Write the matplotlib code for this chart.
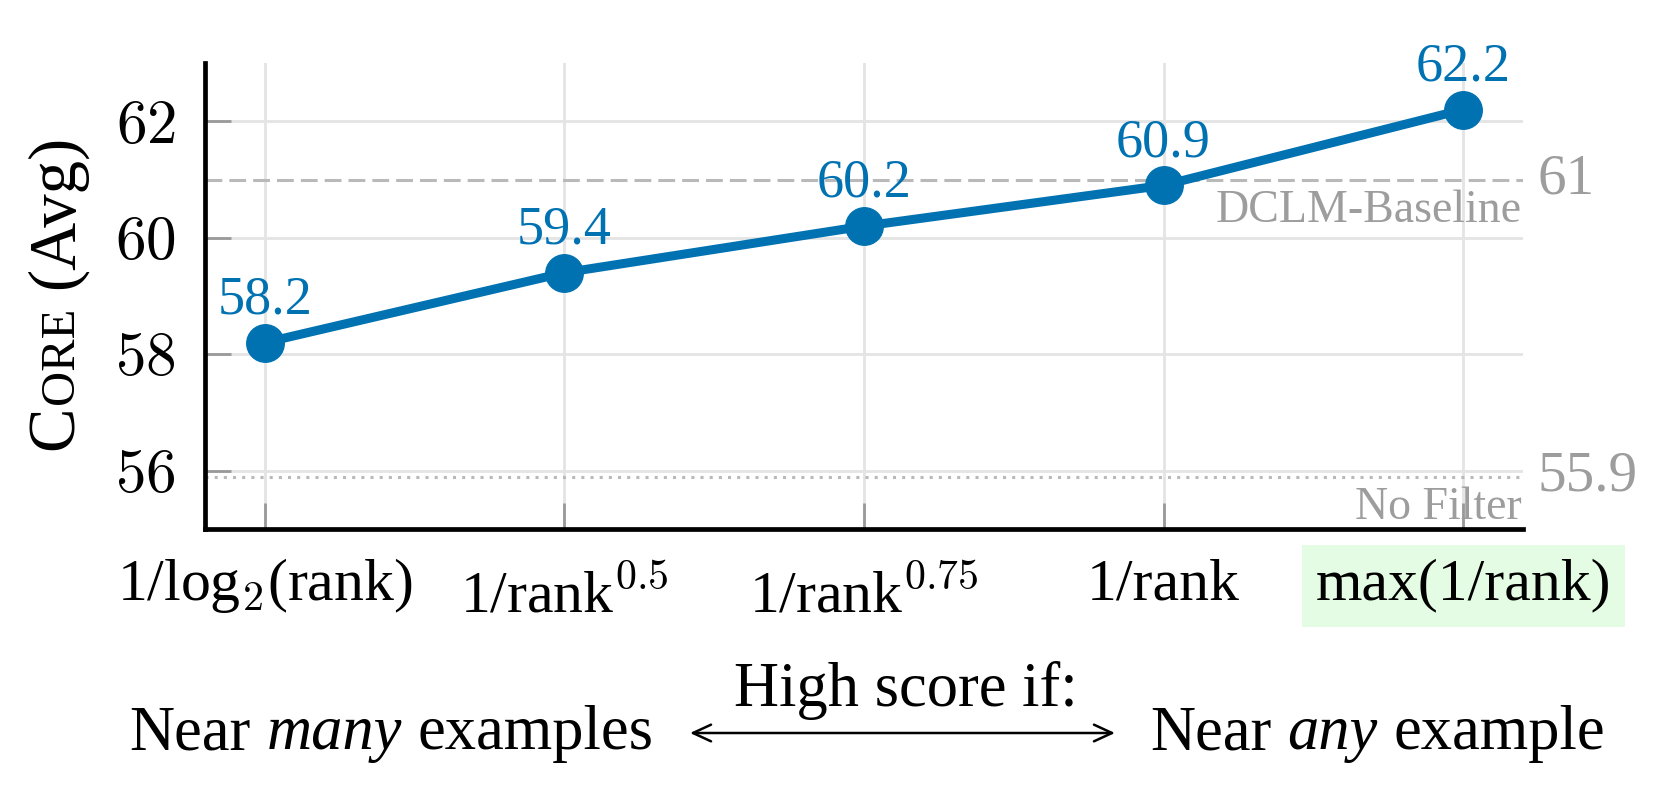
import numpy as np
import matplotlib as mpl
mpl.use('Agg')
import matplotlib.pyplot as plt
from matplotlib.ticker import StrMethodFormatter

####################################################################################

methods = [r'1/log$_2$(rank)', r'1/rank$^{0.5}$', r'1/rank$^{0.75}$', '1/rank', 'max(1/rank)']
core_avg = [58.2, 59.4, 60.2, 60.9, 62.2]
dclm_baseline = 61.0
no_filter = 55.9
yticks = [56, 58, 60, 62]

BLUE = '#0072b2'
GRAY_TXT = '#9d9d9d'
GRAY_LINE = '#b9b9b9'
W, H, DPI = 1659, 789, 100

plt.rcParams['font.family'] = ['Liberation Serif', 'DejaVu Serif']
plt.rcParams['mathtext.fontset'] = 'cm'

fig = plt.figure(figsize=(W / DPI, H / DPI), dpi=DPI)
ax = fig.add_axes([205 / W, 1 - 529 / H, 1318 / W, 466 / H])

x = np.arange(len(methods))
ax.plot(x, core_avg, '-o', color=BLUE, lw=6.5, ms=27, zorder=5, clip_on=False)
for xi, v in zip(x, core_avg):
    ax.annotate(f'{v:.1f}', (xi, v), xytext=(0, 21), textcoords='offset points',
                ha='center', va='baseline', fontsize=39, color=BLUE, annotation_clip=False)

# reference lines
ax.axhline(dclm_baseline, color=GRAY_LINE, lw=2.2, dashes=(5.5, 2.3), zorder=2)
ax.axhline(no_filter, color=GRAY_LINE, lw=2.2, dashes=(1, 2), zorder=2)
ytr = ax.get_yaxis_transform()
ax.text(1.011, dclm_baseline, f'{dclm_baseline:g}', transform=ytr, ha='left', va='center',
        fontsize=41, color=GRAY_TXT)
ax.text(1.011, no_filter, f'{no_filter:g}', transform=ytr, ha='left', va='center',
        fontsize=41, color=GRAY_TXT)
ax.text(0.999, dclm_baseline - 0.73, 'DCLM-Baseline', transform=ytr, ha='right', va='baseline',
        fontsize=33, color=GRAY_TXT)
ax.text(0.999, no_filter - 0.73, 'No Filter', transform=ytr, ha='right', va='baseline',
        fontsize=33, color=GRAY_TXT)

ax.set_xlim(-0.2, 4.2)
ax.set_ylim(55, 63)
ax.set_xticks(x)
ax.set_xticklabels([])
ax.set_yticks(yticks)
ax.yaxis.set_major_formatter(StrMethodFormatter(r'${x:.0f}$'))

# x labels drawn by hand so the ones with exponents sit lower, as in the original
xtr = ax.get_xaxis_transform()
for xi, lab in zip(x, methods):
    yb = -0.178 if '^' in lab else -0.152
    t = ax.text(xi, yb, lab, transform=xtr, ha='center', va='baseline', fontsize=43)
    if lab.startswith('max'):
        t.set_bbox(dict(facecolor='#e4fce4', edgecolor='none', pad=10))

ax.grid(True, color='#e4e4e4', lw=2.0)
ax.set_axisbelow(True)
ax.tick_params(direction='in', length=19, width=2.0, color='#999999')
ax.tick_params(axis='y', labelsize=44, pad=21)
for s in ['top', 'right']:
    ax.spines[s].set_visible(False)
for s in ['left', 'bottom']:
    ax.spines[s].set_linewidth(3.4)

####################################################################################

renderer = fig.canvas.get_renderer()

def text_run(x0, y0, pieces, rot=0):
    # pieces: (string, fontsize, style, gap in px after it); x0, y0 in pixels
    for s, size, style, gap in pieces:
        t = fig.text(x0 / W, y0 / H, s, fontsize=size, style=style, rotation=rot,
                     rotation_mode='anchor', ha='left', va='baseline')
        bb = t.get_window_extent(renderer)
        if rot:
            y0 += bb.height + gap
        else:
            x0 += bb.width + gap

# y label in small caps
text_run(73, H - 450, [('C', 48, 'normal', 1), ('ORE', 35, 'normal', 18),
                       ('(Avg)', 48, 'normal', 0)], rot=90)

sp = 16
text_run(129, 40, [('Near', 45, 'normal', sp), ('many', 45, 'italic', sp),
                   ('examples', 45, 'normal', 0)])
text_run(1150, 40, [('Near', 45, 'normal', sp), ('any', 45, 'italic', sp),
                    ('example', 45, 'normal', 0)])
fig.text(906 / W, 83 / H, 'High score if:', fontsize=45, ha='center', va='baseline')
fig.patches.append(mpl.patches.FancyArrowPatch(
    (690 / W, 56 / H), (1115 / W, 56 / H), transform=fig.transFigure,
    arrowstyle='<->,head_length=13,head_width=6', lw=1.8, color='black',
    shrinkA=0, shrinkB=0))

fig.savefig('out.png', dpi=DPI)
